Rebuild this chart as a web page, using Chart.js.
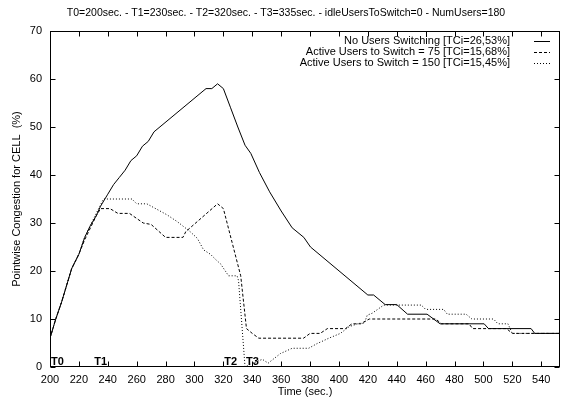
<!DOCTYPE html>
<html><head><meta charset="utf-8">
<script src="https://cdn.jsdelivr.net/npm/chart.js@4/dist/chart.umd.min.js"></script>
<style>html,body{margin:0;padding:0;background:#fff}#wrap{width:561px;height:405px}</style>
</head><body><div id="wrap"><canvas id="c" width="561" height="405"></canvas></div>
<script>
const titleText = 'T0=200sec. - T1=230sec. - T2=320sec. - T3=335sec. - idleUsersToSwitch=0 - NumUsers=180';
const xTitle = 'Time (sec.)';
const yTitle = 'Pointwise Congestion for CELL  (%)';
const seriesLabels = ['No Users Switching [TCi=26,53%]', 'Active Users to Switch = 75 [TCi=15,68%]', 'Active Users to Switch = 150 [TCi=15,45%]'];
const markerTimes = [200, 230, 320, 335];
const markerLabels = ['T0', 'T1', 'T2', 'T3'];

const noSwitchTime  = [200,204,208,212,215,220,224,228,232,235,240,244,248,252,256,260,264,268,272,308,312,316,320,325,330,335,339,345,352,360,367.6,375.7,380.3,420,424,432,440,447.5,461,470,500.5,503.5,533,535.5,553];
const noSwitchValue = [6,10,13.5,17.5,20.5,23.5,27,29.5,31.5,33.5,36,38,39.5,41,43,44,46,47,49,58,58,59,58,54,50,46.2,44.5,40.5,36.5,32.5,29,27,25,15,15,13,13,11,11,9,9,8,8,7,7];

const switch75Time  = [200,204,208,212,215,220,224,228,232,235,241.5,247,255,264.5,270,280,292,294,316,320,326,332,336,340,344.5,375.5,380,387,392,404.5,409,415,421,467,471,490,492.5,516,520,553];
const switch75Value = [6,10,13.5,17.5,20.5,23.5,26.5,29,31.5,33,33,32,32,30,29.7,27,27,28.2,34,33,26,19,8,7,6,6,7,7,8,8,9,9,10,10,9,9,8,8,7,7];

const switch150Time  = [200,204,208,212,215,220,224,228,232,237,256.7,260,267,281,288,297,302,306.3,311,315,318,323.6,329.5,330.5,335,338,342,347,351,359.5,367.6,379,385,388,393,401,407,414,417.5,419.6,423,431,457,460,472.5,475,488,492,507,510,517,520,553];
const switch150Value = [6,10,13.5,17.5,20.5,23.5,27,29.5,32,35,35,34,34,31.7,30.3,28.2,26.8,24.4,23.5,22.3,21.5,19,19,18,0,0.5,1,1.6,0.8,2.8,3.9,3.9,4.9,5.3,6,7,8.4,9.1,9.1,10.8,11.2,12.9,12.9,12,12,11,11,10,10,9,9,7,7];

const xTicksStep = 20, xMin = 200, xMax = 553, yMin = 0, yMax = 70, yStep = 10;

const FONT = "'Liberation Sans', Arial, Helvetica, sans-serif";
Chart.defaults.font.family = FONT;
Chart.defaults.font.size = 11;
Chart.defaults.color = '#000';

function pts(xs, ys) { return xs.map((v, i) => ({x: v, y: ys[i]})); }

const dashes = [[], [3, 2], [1, 2]];

const framePlugin = {
  id: 'frame',
  afterDraw(chart) {
    const {ctx, chartArea: a, scales: {x, y}} = chart;
    ctx.save();
    ctx.strokeStyle = '#000';
    ctx.fillStyle = '#000';
    ctx.lineWidth = 1;
    ctx.setLineDash([]);
    // title
    ctx.font = '10.5px ' + FONT;
    ctx.textAlign = 'center';
    ctx.textBaseline = 'middle';
    ctx.fillText(titleText, 286, 13);
    const L = Math.round(a.left) + 0.5, R = Math.round(a.right) - 0.5, T = Math.round(a.top) + 0.5, B = Math.round(a.bottom) - 0.5;
    ctx.strokeRect(L, T, R - L, B - T);
    const tl = 5;
    ctx.beginPath();
    x.ticks.forEach(t => {
      const px = Math.round(x.getPixelForValue(t.value)) + 0.5;
      ctx.moveTo(px, B); ctx.lineTo(px, B - tl);
      ctx.moveTo(px, T); ctx.lineTo(px, T + tl);
    });
    y.ticks.forEach(t => {
      const py = Math.round(y.getPixelForValue(t.value)) + 0.5;
      ctx.moveTo(L, py); ctx.lineTo(L + tl, py);
      ctx.moveTo(R, py); ctx.lineTo(R - tl, py);
    });
    ctx.stroke();
    // marker labels
    ctx.font = 'bold 11px ' + FONT;
    ctx.textAlign = 'left';
    markerTimes.forEach((t, i) => {
      ctx.fillText(markerLabels[i], x.getPixelForValue(t) + 1, y.getPixelForValue(1));
    });
    // legend
    ctx.font = '11px ' + FONT;
    ctx.textAlign = 'right';
    chart.data.datasets.forEach((ds, i) => {
      const ry = a.top + 10 + i * 11;
      ctx.fillText(ds.label, 510, ry);
      ctx.beginPath();
      ctx.setLineDash(ds.borderDash || []);
      ctx.moveTo(534, Math.round(ry) + 0.5);
      ctx.lineTo(550, Math.round(ry) + 0.5);
      ctx.stroke();
    });
    ctx.restore();
  }
};

new Chart(document.getElementById('c'), {
  type: 'line',
  data: {
    datasets: [
      {label: seriesLabels[0], data: pts(noSwitchTime, noSwitchValue), borderDash: dashes[0]},
      {label: seriesLabels[1], data: pts(switch75Time, switch75Value), borderDash: dashes[1]},
      {label: seriesLabels[2], data: pts(switch150Time, switch150Value), borderDash: dashes[2]}
    ].map(d => Object.assign(d, {borderColor: '#000', borderWidth: 1, pointRadius: 0, tension: 0, fill: false}))
  },
  options: {
    responsive: false,
    devicePixelRatio: 1,
    animation: false,
    layout: {padding: {top: 31, right: 1, bottom: 0, left: 0}},
    plugins: {
      legend: {display: false},
      tooltip: {enabled: false},
      title: {display: false}
    },
    scales: {
      x: {
        type: 'linear', min: xMin, max: xMax,
        grid: {display: false, drawTicks: false},
        border: {display: false},
        ticks: {stepSize: xTicksStep, includeBounds: false, padding: 6, maxRotation: 0, autoSkip: false},
        title: {display: true, text: xTitle, padding: {top: 0, bottom: 6}},
        afterFit: s => { s.height = 38; }
      },
      y: {
        min: yMin, max: yMax,
        grid: {display: false, drawTicks: false},
        border: {display: false},
        ticks: {stepSize: yStep, padding: 8},
        title: {display: true, text: yTitle, padding: {top: 10, bottom: 0}},
        afterFit: s => { s.width = 50; }
      }
    }
  },
  plugins: [framePlugin]
});
</script>
</body></html>
